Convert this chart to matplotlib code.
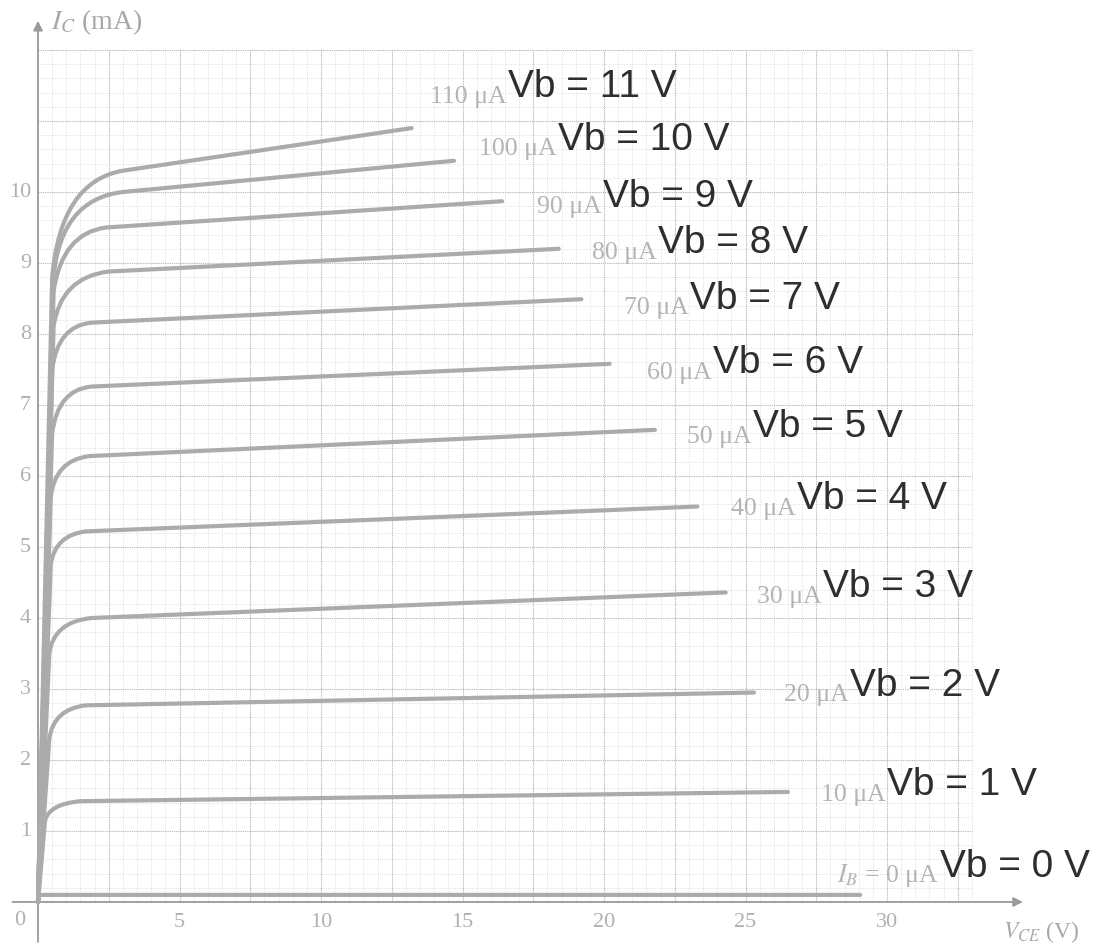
import numpy as np
import matplotlib
matplotlib.use("Agg")
import matplotlib.pyplot as plt
from matplotlib.path import Path
from matplotlib.patches import PathPatch

plt.rcParams['mathtext.fontset'] = 'stix'

# base current curves, 0 .. 110 uA
ib_text = ["$I_B$ = 0 μA", "10 μA", "20 μA", "30 μA", "40 μA", "50 μA",
           "60 μA", "70 μA", "80 μA", "90 μA", "100 μA", "110 μA"]
vb_text = ["Vb = 0 V", "Vb = 1 V", "Vb = 2 V", "Vb = 3 V", "Vb = 4 V", "Vb = 5 V",
           "Vb = 6 V", "Vb = 7 V", "Vb = 8 V", "Vb = 9 V", "Vb = 10 V", "Vb = 11 V"]

# points (V_CE in V, I_C in mA)
rise_v = [0.0, 0.25, 0.40, 0.40, 0.45, 0.45, 0.50, 0.50, 0.55, 0.55, 0.55, 0.50]
rise_i = [0.10, 1.15, 2.30, 3.50, 4.75, 5.70, 6.60, 7.50, 8.10, 8.60, 8.80, 8.80]
corner_v = [0.05, 0.40, 0.55, 0.55, 0.60, 0.60, 0.70, 0.70, 0.80, 0.85, 0.80, 0.80]
corner_i = [0.10, 1.38, 2.72, 3.95, 5.17, 6.22, 7.22, 8.12, 8.80, 9.42, 9.90, 10.15]
knee_v = [0.10, 1.5, 1.7, 1.9, 1.7, 1.8, 1.9, 1.9, 2.5, 2.4, 3.0, 3.0]
knee_i = [0.10, 1.42, 2.77, 4.00, 5.22, 6.28, 7.26, 8.16, 8.88, 9.50, 10.00, 10.30]
end_v = [29.05, 26.5, 25.3, 24.3, 23.3, 21.8, 20.2, 19.2, 18.4, 16.4, 14.7, 13.2]
end_i = [0.10, 1.55, 2.95, 4.36, 5.57, 6.65, 7.58, 8.49, 9.20, 9.87, 10.44, 10.90]

# label anchors (junction between the two texts)
lbl_v = [31.87, 30.0, 28.69, 27.74, 26.82, 25.27, 23.85, 23.04, 21.91, 19.96, 18.37, 16.61]
lbl_i = [0.37, 1.52, 2.92, 4.31, 5.55, 6.56, 7.46, 8.37, 9.15, 9.80, 10.61, 11.35]

x_ticks = [5, 10, 15, 20, 25, 30]
y_ticks = [1, 2, 3, 4, 5, 6, 7, 8, 9, 10]

fig = plt.figure(figsize=(10.98, 9.53), dpi=100)
ax = fig.add_axes([0, 0, 1, 1])
ax.set_xlim(-38 / 28.3, (1098 - 38) / 28.3)
ax.set_ylim((903 - 953) / 71, 903 / 71)
ax.axis('off')

# graph paper
ax.vlines(np.arange(0.5, 33.01, 0.5), 0, 12, color='#d6d6d6', lw=0.6, ls=(0, (1, 1.5)), zorder=1)
ax.hlines(np.arange(0.2, 12.01, 0.2), 0, 33, color='#d6d6d6', lw=0.6, ls=(0, (1, 1.5)), zorder=1)
ax.vlines(np.arange(2.5, 33.01, 2.5), 0, 12, color='#bcbcbc', lw=0.8, ls=(0, (1, 1)), zorder=1)
ax.hlines(np.arange(1, 12.01, 1), 0, 33, color='#bcbcbc', lw=0.8, ls=(0, (1, 1)), zorder=1)

# axes with arrows
ax.annotate('', xy=(34.9, 0), xytext=(-1.0, 0),
            arrowprops=dict(arrowstyle='-|>', color='#9a9a9a', lw=1.3, mutation_scale=14))
ax.annotate('', xy=(0, 12.45), xytext=(0, -0.6),
            arrowprops=dict(arrowstyle='-|>', color='#9a9a9a', lw=1.3, mutation_scale=14))

for v in x_ticks:
    ax.text(v, -0.27, str(v), ha='center', va='center', fontsize=16,
            family='Liberation Serif', color='#b0b0b0')
for i in y_ticks:
    ax.text(-0.25, i, str(i), ha='right', va='center', fontsize=16,
            family='Liberation Serif', color='#b0b0b0')
ax.text(-0.64, -0.24, "0", ha='center', va='center', fontsize=16,
        family='Liberation Serif', color='#b0b0b0')
ax.text(0.45, 12.4, "$I_C$ (mA)", ha='left', va='center', fontsize=20,
        family='Liberation Serif', color='#a8a8a8')
ax.text(34.1, -0.41, "$V_{CE}$ (V)", ha='left', va='center', fontsize=17,
        family='Liberation Serif', color='#a8a8a8')

# characteristic curves
for k in range(len(ib_text)):
    verts = [(0, 0), (rise_v[k], rise_i[k]), (corner_v[k], corner_i[k]),
             (knee_v[k], knee_i[k]), (end_v[k], end_i[k])]
    codes = [Path.MOVETO, Path.LINETO, Path.CURVE3, Path.CURVE3, Path.LINETO]
    if k == 0:
        verts[0] = (0, end_i[0])
    ax.add_patch(PathPatch(Path(verts, codes), fill=False, edgecolor='#ababab',
                           lw=3.0, capstyle='round', joinstyle='round', zorder=3))
    ax.text(lbl_v[k] - 0.05, lbl_i[k] - 0.08, ib_text[k], ha='right', va='baseline',
            fontsize=18.5, family='Liberation Serif', color='#b4b4b4', zorder=4)
    ax.text(lbl_v[k], lbl_i[k], vb_text[k], ha='left', va='baseline',
            fontsize=28, family='Liberation Sans', color='#2e2e2e', zorder=4)

fig.savefig("out.png", dpi=100, facecolor='white')
